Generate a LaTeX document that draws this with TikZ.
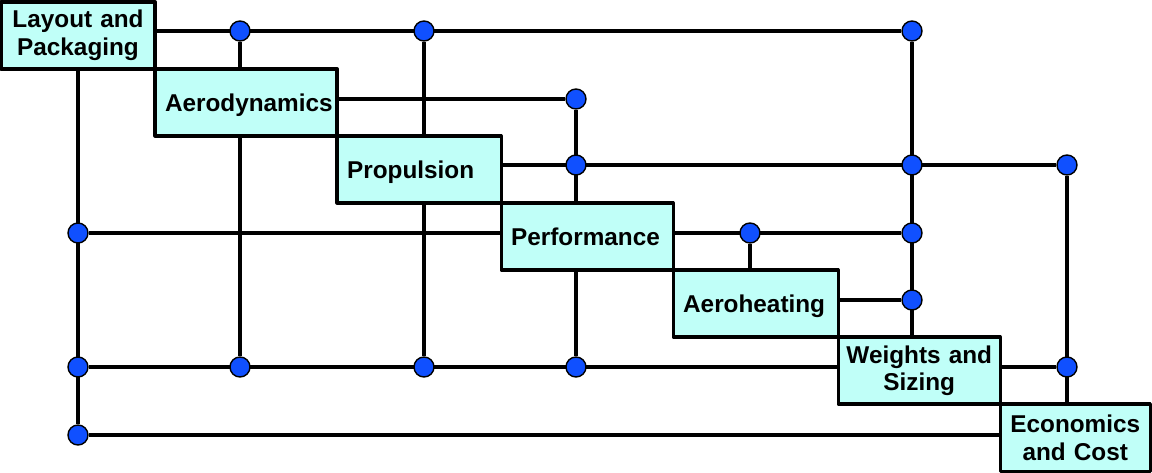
\documentclass[tikz,border=0pt]{standalone}
\usepackage{fontspec}
\setmainfont{Liberation Sans}
\usetikzlibrary{positioning,backgrounds}

\definecolor{boxfill}{RGB}{192,255,248}
\definecolor{dotblue}{RGB}{16,80,255}

\tikzset{
  blk/.style={draw=black,fill=boxfill,line width=2.3pt,outer sep=0pt,
              inner xsep=0.25cm,inner ysep=0pt,minimum height=1.675cm,
              text width=#1,align=left,
              font=\fontsize{17.3pt}{19.6pt}\selectfont\bfseries},
  one/.style={text height=12.4pt,text depth=0pt},
  two/.style={inner xsep=0.1cm,align=center},
  dot/.style={circle,draw=black,fill=dotblue,line width=1pt,
              minimum size=0.5cm,inner sep=0pt},
  link/.style={line width=2.3pt}
}

\begin{document}
\begin{tikzpicture}[x=0.025cm,y=-0.025cm,line join=round]

  \useasboundingbox (0,0) rectangle (1152,473);

  % ---- disciplines along the diagonal ------------------------------------
  \node[blk=3.65cm,two,anchor=north west] (lp) at (1,2)
        {Layout and\\Packaging};
  \node[blk=4.05cm,one,below right=0pt and 0pt of lp] (ae) {Aerodynamics};
  \node[blk=3.6cm,one,below right=0pt and 0pt of ae] (pr) {Propulsion};
  \node[blk=3.8cm,one,below right=0pt and 0pt of pr] (pf) {Performance};
  \node[blk=3.625cm,one,below right=0pt and 0pt of pf] (ah) {Aeroheating};
  \node[blk=3.85cm,two,below right=0pt and 0pt of ah] (ws)
        {Weights and\\Sizing};
  \node[blk=3.55cm,two,below right=0pt and 0pt of ws] (ec)
        {Economics\\and Cost};

  % ---- coupling points ---------------------------------------------------
  \node[dot] (a2) at (240,31) {};
  \node[dot] (a3) at (424,31) {};
  \node[dot] (a6) at (912,31) {};
  \node[dot] (b4) at (576,99) {};
  \node[dot] (c4) at (576,165) {};
  \node[dot] (c6) at (912,165) {};
  \node[dot] (c7) at (1067,165) {};
  \node[dot] (d1) at (78,233) {};
  \node[dot] (d5) at (750,233) {};
  \node[dot] (d6) at (912,233) {};
  \node[dot] (e6) at (912,300) {};
  \node[dot] (f1) at (78,367) {};
  \node[dot] (f2) at (240,367) {};
  \node[dot] (f3) at (424,367) {};
  \node[dot] (f4) at (576,367) {};
  \node[dot] (f7) at (1067,367) {};
  \node[dot] (g1) at (78,435) {};

  % ---- data lines (behind the boxes) -------------------------------------
  \begin{scope}[on background layer]
    \draw[link] (lp |- a6) -- (a6) -- (e6 |- ws);
    \draw[link] (a2) -- (f2);
    \draw[link] (a3) -- (f3);
    \draw[link] (ae |- b4) -- (b4) -- (f4);
    \draw[link] (pr |- c7) -- (c7) -- (c7 |- ec);
    \draw[link] (d1) -- (d6);
    \draw[link] (d5) -- (d5 |- ah);
    \draw[link] (ah |- e6) -- (e6);
    \draw[link] (d1 |- lp) -- (g1);
    \draw[link] (f1) -- (f7);
    \draw[link] (g1) -- (g1 -| ec);
  \end{scope}

\end{tikzpicture}
\end{document}
